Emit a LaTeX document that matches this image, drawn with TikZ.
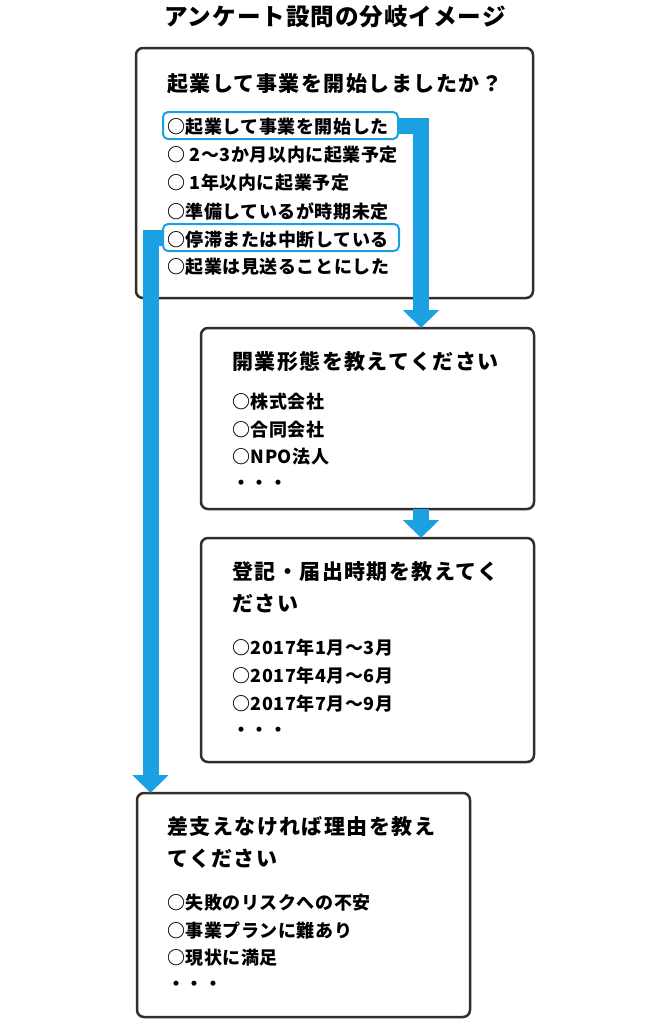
\documentclass[tikz,border=0pt]{standalone}
\usepackage{fontspec}
\setmainfont{Noto Sans CJK JP}
\newfontfamily\ttlfont{Noto Sans CJK JP}[LetterSpace=4]
\newfontfamily\qfont{Noto Sans CJK JP}[LetterSpace=7]
\newfontfamily\ofont{Noto Sans CJK JP}[LetterSpace=3]
\usetikzlibrary{arrows.meta}
\definecolor{qblue}{RGB}{27,161,226}
\definecolor{qdark}{RGB}{51,46,43}
\begin{document}
\begin{tikzpicture}[x=1pt,y=-1pt,
 box/.style={draw=qdark, line width=2.5pt, rounded corners=7pt, fill=white, anchor=north west, inner sep=0, outer sep=0},
 hl/.style={draw=qblue, line width=2pt, rounded corners=5pt, anchor=north west, inner sep=0, outer sep=0},
 ttl/.style={font=\ttlfont\bfseries\fontsize{23.6}{28}\selectfont, inner sep=0},
 q/.style={font=\qfont\bfseries\fontsize{21}{25}\selectfont, anchor=west, inner sep=0},
 opt/.style={font=\ofont\bfseries\fontsize{18}{21}\selectfont, anchor=west, inner sep=0},
 flow/.style={draw=qblue, line width=16pt, -{Triangle[width=35pt,length=18pt]}},
 ]
\useasboundingbox (0,0) rectangle (670,1021);
\fill[white] (0,0) rectangle (670,1021);

\node[ttl] (title) at (335,17) {アンケート設問の分岐イメージ};

% boxes
\node[box, minimum width=397pt, minimum height=250pt] (b1) at (136,48) {};
\node[box, minimum width=333pt, minimum height=181pt] (b2) at (201,328) {};
\node[box, minimum width=333pt, minimum height=224pt] (b3) at (201,538) {};
\node[box, minimum width=333pt, minimum height=224pt] (b4) at (137,793) {};

% highlights
\node[hl, minimum width=235pt, minimum height=27pt] (h1) at (163,112) {};
\node[hl, minimum width=236pt, minimum height=27pt] (h2) at (163,224) {};

% connectors
\coordinate (c1) at (421,125.5);
\coordinate (c2) at (150.5,237.5);
\draw[flow] (h1.east) -- (c1) -- (c1 |- b2.north);
\draw[flow] (c1 |- b2.south) -- (c1 |- b3.north);
\draw[flow] (h2.west) -- (c2) -- (c2 |- b4.north);

% box 1
\node[q] (q1) at (167,84) {起業して事業を開始しましたか？};
\node[opt] (o11) at (167,127) {○起業して事業を開始した};
\node[opt] (o12) at (167,155) {○ 2～3か月以内に起業予定};
\node[opt] (o13) at (167,183) {○ 1年以内に起業予定};
\node[opt] (o14) at (167,212) {○準備しているが時期未定};
\node[opt] (o15) at (167,240) {○停滞または中断している};
\node[opt] (o16) at (167,267) {○起業は見送ることにした};

% box 2
\node[q] (q2) at (232,362) {開業形態を教えてください};
\node[opt] (o21) at (232,402) {○株式会社};
\node[opt] (o22) at (232,430) {○合同会社};
\node[opt] (o23) at (232,457) {○NPO法人};
\node[opt] (o24) at (232,485) {・・・};

% box 3
\node[q] (q3a) at (232,572) {登記・届出時期を教えてく};
\node[q] (q3b) at (232,604) {ださい};
\node[opt] (o31) at (232,648) {○2017年1月～3月};
\node[opt] (o32) at (232,676) {○2017年4月～6月};
\node[opt] (o33) at (232,704) {○2017年7月～9月};
\node[opt] (o34) at (232,732) {・・・};

% box 4
\node[q] (q4a) at (167,827) {差支えなければ理由を教え};
\node[q] (q4b) at (167,859) {てください};
\node[opt] (o41) at (167,903) {○失敗のリスクへの不安};
\node[opt] (o42) at (167,931) {○事業プランに難あり};
\node[opt] (o43) at (167,958) {○現状に満足};
\node[opt] (o44) at (167,986) {・・・};
\end{tikzpicture}
\end{document}
